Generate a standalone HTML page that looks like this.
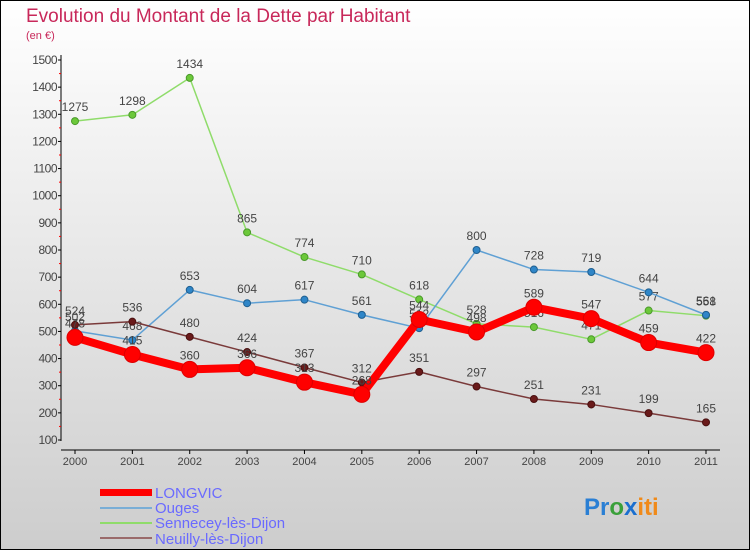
<!DOCTYPE html>
<html><head><meta charset="utf-8"><style>
body{margin:0;width:750px;height:550px;overflow:hidden;font-family:"Liberation Sans",sans-serif}
#wrap{position:absolute;left:0;top:0;width:748px;height:548px;border:1px solid #000;background:linear-gradient(#ffffff,#cdcdcd)}
</style></head><body>
<div id="wrap">
<svg id="chart" width="750" height="550" style="position:absolute;left:-1px;top:-1px">
<text x="26" y="22" font-size="19" fill="#c8285a">Evolution du Montant de la Dette par Habitant</text>
<text x="26" y="39" font-size="11" fill="#c8285a">(en €)</text>
<g id="axes"></g><g id="series"></g>
<g>
<rect x="100" y="489" width="52" height="7" fill="#f00"/>
<line x1="100" y1="508" x2="152" y2="508" stroke="#7aaed6" stroke-width="2"/>
<line x1="100" y1="523" x2="152" y2="523" stroke="#8fdc6a" stroke-width="2"/>
<line x1="100" y1="538" x2="152" y2="538" stroke="#9a6a6a" stroke-width="2"/>
<text x="155" y="498" font-size="15" fill="#6a6aff">LONGVIC</text>
<text x="155" y="513" font-size="15" fill="#6a6aff">Ouges</text>
<text x="155" y="528" font-size="15" fill="#6a6aff">Sennecey-lès-Dijon</text>
<text x="155" y="544" font-size="15" fill="#6a6aff">Neuilly-lès-Dijon</text>
</g>
<text x="584" y="515" font-size="24" font-weight="bold"><tspan fill="#2a7fd4">Pr</tspan><tspan fill="#3aa03a">o</tspan><tspan fill="#1a6fd0">x</tspan><tspan fill="#f08a1a">iti</tspan></text>
</svg></div>
<script>
const years=[2000,2001,2002,2003,2004,2005,2006,2007,2008,2009,2010,2011];
const yTicks=[100,200,300,400,500,600,700,800,900,1000,1100,1200,1300,1400,1500];
const longvic=[478,415,360,366,313,268,544,498,589,547,459,422];
const ouges=[502,468,653,604,617,561,512,800,728,719,644,561];
const sennecey=[1275,1298,1434,865,774,710,618,528,516,471,577,558];
const neuilly=[524,536,480,424,367,312,351,297,251,231,199,165];
const NS="http://www.w3.org/2000/svg";
const x=i=>75+i*(706-75)/11;
const y=v=>440-(v-100)*(380/1400);
function mk(t,a,p){const e=document.createElementNS(NS,t);for(const k in a)e.setAttribute(k,a[k]);p.appendChild(e);return e;}
const ax=document.getElementById('axes');
let l=mk('line',{x1:61,y1:55,x2:61,y2:441,stroke:'#000'},ax);


l=mk('line',{x1:61,y1:450,x2:720,y2:450,stroke:'#000'},ax);


yTicks.forEach(v=>{
 mk('line',{x1:58,x2:61,y1:y(v),y2:y(v),stroke:'#000'},ax);
 if(v<1500) mk('line',{x1:59,x2:61,y1:y(v+50),y2:y(v+50),stroke:'#f00'},ax);
 const t=mk('text',{x:57,y:y(v)+4,'font-size':12,'text-anchor':'end',fill:'#444','letter-spacing':'-0.5'},ax);
 t.textContent=v;
 
 
});
years.forEach((yr,i)=>{
 mk('line',{x1:x(i),x2:x(i),y1:450,y2:454,stroke:'#000'},ax);
 const t=mk('text',{x:x(i),y:465,'font-size':11,'text-anchor':'middle',fill:'#444'},ax);
 t.textContent=yr;
 
 
});
const sg=document.getElementById('series');
function series(data,name,line,w,dot,r,stroke){
 const g=mk('g',{},sg);
 
 
 const p=mk('polyline',{points:data.map((v,i)=>x(i)+','+y(v)).join(' '),fill:'none',stroke:line,'stroke-width':w,'stroke-linejoin':'round'},g);
 
 
 data.forEach((v,i)=>{
  const c=mk('circle',{cx:x(i),cy:y(v),r:r,fill:dot,stroke:stroke,'stroke-width':1},g);
  
  
  const t=mk('text',{x:x(i),y:y(v)-10,'font-size':12,'text-anchor':'middle',fill:'#444'},g);
  t.textContent=v;
  
  
 });
}
series(sennecey,'sennecey','#8fdc6a',1.5,'#6cc83a',3.5,'#4a9a2a');
series(ouges,'ouges','#5fa0d4',1.5,'#2f86c8',3.5,'#1f5f90');
series(neuilly,'neuilly','#7a3a3a',1.5,'#6a1a1a',3.5,'#4a1010');
series(longvic,'longvic','#f00',8,'#f00',8,'#d00');
</script>
</body></html>
